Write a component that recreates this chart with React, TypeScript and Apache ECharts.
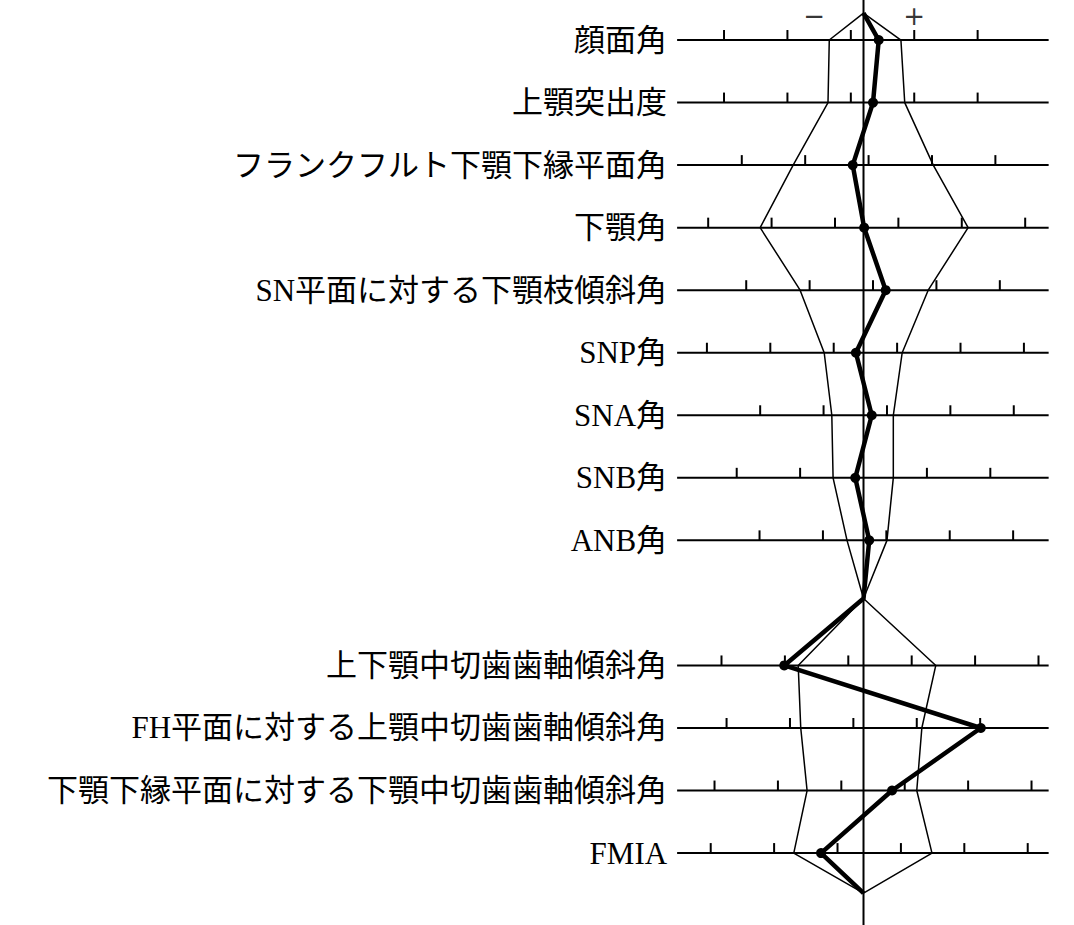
import React, { useEffect, useRef } from "react";
import * as echarts from "echarts";

// Cephalometric measurement names, top to bottom
const labels = [
  "顔面角",
  "上顎突出度",
  "フランクフルト下顎下縁平面角",
  "下顎角",
  "SN平面に対する下顎枝傾斜角",
  "SNP角",
  "SNA角",
  "SNB角",
  "ANB角",
  "上下顎中切歯歯軸傾斜角",
  "FH平面に対する上顎中切歯歯軸傾斜角",
  "下顎下縁平面に対する下顎中切歯歯軸傾斜角",
  "FMIA",
];

// vertical slot of each row (slot 9 is the junction between the two groups)
const rowSlots = [0, 1, 2, 3, 4, 5, 6, 7, 8, 10, 11, 12, 13];
const apexTop = -0.43;
const junction = 8.93;
const apexBottom = 13.64;

// scale ticks on each row, in scale units from the mean line
const rowTicks = [
  [-2.2, -1.2, -0.2, 0.8, 1.8],
  [-2.2, -1.2, -0.2, 0.8, 1.8],
  [-1.92, -0.92, 0.08, 1.08, 2.08],
  [-2.45, -1.45, -0.45, 0.55, 1.55, 2.55],
  [-1.85, -0.85, 0.15, 1.15, 2.15],
  [-2.47, -1.47, -0.47, 0.53, 1.53, 2.53],
  [-1.63, -0.63, 0.37, 1.37, 2.37],
  [-2, -1, 1, 2],
  [-1.64, -0.64, 0.36, 1.36, 2.36],
  [-2.24, -1.24, -0.24, 0.76, 1.76, 2.76],
  [-2.16, -1.16, -0.16, 0.84, 1.84],
  [-2.35, -1.35, -0.35, 0.65, 1.65, 2.65],
  [-2.41, -1.41, -0.41, 0.59, 1.59, 2.59],
];
const lineStart = -2.94;
const lineEnd = 2.92;

// normal range envelope
const normLow = [-0.54, -0.56, -1.11, -1.63, -1.0, -0.62, -0.5, -0.48, -0.26, -1.03, -0.99, -0.89, -1.1];
const normHigh = [0.59, 0.65, 1.1, 1.65, 1.02, 0.61, 0.47, 0.47, 0.37, 1.14, 0.92, 0.84, 1.08];

// patient values
const patient = [0.24, 0.15, -0.17, 0.01, 0.35, -0.12, 0.13, -0.13, 0.09, -1.25, 1.85, 0.45, -0.67];

const signs = ["−", "+"];
const signPos = [-0.78, 0.8];
const signRow = -0.39;

const FONT = "'Liberation Serif', 'Noto Sans CJK JP', serif";

function profile(values: number[], withDots: boolean) {
  const pts: any[] = [{ value: [0, apexTop], symbol: "none" }];
  values.forEach((v, i) => {
    if (i === 9) pts.push({ value: [0, junction], symbol: "none" });
    pts.push(withDots ? { value: [v, rowSlots[i]] } : { value: [v, rowSlots[i]], symbol: "none" });
  });
  pts.push({ value: [0, apexBottom], symbol: "none" });
  return pts;
}

const App: React.FC = () => {
  const chartRef = useRef<HTMLDivElement>(null);

  useEffect(() => {
    if (!chartRef.current) return;
    const chart = echarts.init(chartRef.current, undefined, { renderer: "svg" });

    const option = {
      animation: false,
      backgroundColor: "#fff",
      grid: { left: 0, right: 0, top: 0, bottom: 0 },
      xAxis: { type: "value", min: -13.62, max: 3.32, show: false },
      yAxis: { type: "value", min: -0.64, max: 14.15, inverse: true, show: false },
      series: [
        {
          // center (mean) line
          type: "line",
          data: [[0, -0.64], [0, 14.15]],
          symbol: "none",
          lineStyle: { color: "#000", width: 2 },
          z: 1,
        },
        {
          // row scales with ticks and labels
          type: "custom",
          data: rowSlots.map((s) => [0, s]),
          encode: { x: 0, y: 1 },
          z: 2,
          renderItem: (params: any, api: any) => {
            const i = params.dataIndex;
            const slot = rowSlots[i];
            const p0 = api.coord([lineStart, slot]);
            const p1 = api.coord([lineEnd, slot]);
            const children: any[] = [
              {
                type: "line",
                shape: { x1: p0[0], y1: p0[1], x2: p1[0], y2: p1[1] },
                style: { stroke: "#000", lineWidth: 2 },
              },
            ];
            rowTicks[i].forEach((t) => {
              const p = api.coord([t, slot]);
              children.push({
                type: "line",
                shape: { x1: p[0], y1: p[1], x2: p[0], y2: p[1] - 10 },
                style: { stroke: "#000", lineWidth: 2 },
              });
            });
            children.push({
              type: "text",
              style: {
                text: labels[i],
                x: p0[0] - 10,
                y: p0[1],
                align: "right",
                verticalAlign: "middle",
                fontSize: 31,
                fontFamily: FONT,
                fill: "#000",
              },
            });
            return { type: "group", children };
          },
        },
        {
          type: "line",
          name: "low",
          data: profile(normLow, false),
          symbol: "none",
          lineStyle: { color: "#000", width: 1.5 },
          z: 3,
        },
        {
          type: "line",
          name: "high",
          data: profile(normHigh, false),
          symbol: "none",
          lineStyle: { color: "#000", width: 1.5 },
          z: 3,
        },
        {
          type: "line",
          name: "patient",
          data: profile(patient, true),
          symbol: "circle",
          symbolSize: 10,
          itemStyle: { color: "#000" },
          lineStyle: { color: "#000", width: 4.5 },
          z: 4,
        },
        {
          type: "scatter",
          data: signPos.map((x, i) => ({ value: [x, signRow], name: signs[i] })),
          symbolSize: 0,
          label: {
            show: true,
            position: "inside",
            formatter: (p: any) => p.name,
            fontSize: 26,
            lineHeight: 26,
            fontFamily: "'DejaVu Sans', sans-serif",
            color: "#000",
          },
          z: 5,
        },
      ],
    };

    chart.setOption(option);
    return () => {
      chart.dispose();
    };
  }, []);

  return (
    <div
      ref={chartRef}
      style={{ position: "absolute", left: 0, top: 0, width: 1074, height: 925 }}
    />
  );
};

export default App;
